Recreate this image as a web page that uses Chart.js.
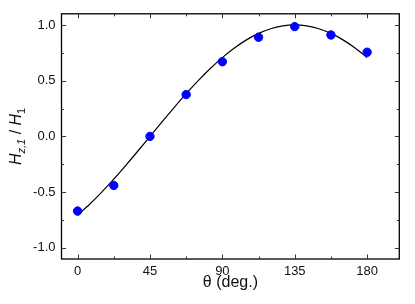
<!DOCTYPE html>
<html><head><meta charset="utf-8">
<script src="https://cdn.jsdelivr.net/npm/chart.js@4.4.0/dist/chart.umd.min.js"></script>
<style>html,body{margin:0;padding:0;background:#fff}</style></head>
<body><canvas id="c" width="415" height="304"></canvas>
<script>
const angles = [0, 22.5, 45, 67.5, 90, 112.5, 135, 157.5, 180];
const measured = [-0.67, -0.44, 0.0, 0.375, 0.67, 0.89, 0.985, 0.91, 0.755];
const fitAngles = [0, 7.5, 15, 22.5, 30, 37.5, 45, 52.5, 60, 67.5, 75, 82.5, 90, 97.5, 105, 112.5, 120, 127.5, 135, 142.5, 150, 157.5, 165, 172.5, 180];
const fitValues = [-0.707, -0.609, -0.5, -0.383, -0.259, -0.131, 0.0, 0.131, 0.259, 0.383, 0.5, 0.609, 0.707, 0.793, 0.866, 0.924, 0.966, 0.991, 1.0, 0.991, 0.966, 0.924, 0.866, 0.793, 0.707];
const xTicks = [0, 45, 90, 135, 180];
const xMinor = [22.5, 67.5, 112.5, 157.5];
const yTicks = [-1.0, -0.5, 0.0, 0.5, 1.0];
const yMinor = [-0.75, -0.25, 0.25, 0.75];
const xTitle = 'θ (deg.)';

const FONT = '"Liberation Sans", Arial, sans-serif';

const framePlugin = {
  id: 'frame',
  afterDraw(chart) {
    const ctx = chart.ctx, a = chart.chartArea;
    const xs = chart.scales.x, ys = chart.scales.y;
    ctx.save();
    ctx.strokeStyle = '#000';
    ctx.lineWidth = 1.3;
    ctx.strokeRect(a.left, a.top, a.right - a.left, a.bottom - a.top);
    ctx.lineWidth = 1;
    ctx.strokeStyle = '#333';
    const tick = (x1, y1, x2, y2) => { ctx.beginPath(); ctx.moveTo(x1, y1); ctx.lineTo(x2, y2); ctx.stroke(); };
    xTicks.forEach(v => { const p = Math.round(xs.getPixelForValue(v)) + 0.5; tick(p, a.bottom, p, a.bottom - 4.5); tick(p, a.top, p, a.top + 4.5); });
    xMinor.forEach(v => { const p = Math.round(xs.getPixelForValue(v)) + 0.5; tick(p, a.bottom, p, a.bottom - 2.5); tick(p, a.top, p, a.top + 2.5); });
    yTicks.forEach(v => { const p = Math.round(ys.getPixelForValue(v)) + 0.5; tick(a.left, p, a.left + 4.5, p); tick(a.right, p, a.right - 4.5, p); });
    yMinor.forEach(v => { const p = Math.round(ys.getPixelForValue(v)) + 0.5; tick(a.left, p, a.left + 2.5, p); tick(a.right, p, a.right - 2.5, p); });

    // x title
    ctx.fillStyle = '#111';
    ctx.font = '16px ' + FONT;
    ctx.textAlign = 'center';
    ctx.textBaseline = 'middle';
    ctx.fillText(xTitle, (a.left + a.right) / 2, 283);

    // y title with subscripts
    const parts = [
      { t: 'H', f: 'italic 16px ' + FONT, dy: 0 },
      { t: 'z,1', f: 'italic 11px ' + FONT, dy: 3.5 },
      { t: ' / ', f: '16px ' + FONT, dy: 0 },
      { t: 'H', f: 'italic 16px ' + FONT, dy: 0 },
      { t: '1', f: '11px ' + FONT, dy: 3.5 }
    ];
    let total = 0;
    parts.forEach(p => { ctx.font = p.f; p.w = ctx.measureText(p.t).width; total += p.w; });
    ctx.translate(21, (a.top + a.bottom) / 2);
    ctx.rotate(-Math.PI / 2);
    ctx.textAlign = 'left';
    ctx.textBaseline = 'alphabetic';
    let x = -total / 2;
    parts.forEach(p => { ctx.font = p.f; ctx.fillText(p.t, x, p.dy); x += p.w; });
    ctx.restore();
  }
};

new Chart(document.getElementById('c'), {
  type: 'scatter',
  data: {
    datasets: [
      {
        label: 'measured',
        data: angles.map((a, i) => ({ x: a, y: measured[i] })),
        backgroundColor: '#0000ff',
        borderColor: '#0000ff',
        pointRadius: 4.2,
        pointHoverRadius: 4.2,
        order: 0
      },
      {
        label: 'fit',
        data: fitAngles.map((a, i) => ({ x: a, y: fitValues[i] })),
        showLine: true,
        borderColor: '#000',
        borderWidth: 1.2,
        pointRadius: 0,
        cubicInterpolationMode: 'monotone',
        fill: false,
        order: 1
      }
    ]
  },
  options: {
    responsive: false,
    animation: false,
    events: [],
    layout: { padding: { left: 0, right: 15.7, top: 9.3, bottom: 0 } },
    plugins: { legend: { display: false }, tooltip: { enabled: false } },
    scales: {
      x: {
        type: 'linear', min: -10, max: 200,
        afterBuildTicks: s => { s.ticks = xTicks.map(v => ({ value: v })); },
        afterFit: s => { s.height = 45; },
        grid: { display: false, drawTicks: false },
        border: { display: false },
        ticks: { color: '#111', padding: 5, font: { family: FONT, size: 13 }, callback: v => String(v), maxRotation: 0 }
      },
      y: {
        type: 'linear', min: -1.1, max: 1.1,
        afterBuildTicks: s => { s.ticks = yTicks.map(v => ({ value: v })); },
        afterFit: s => { s.width = 61.5; },
        grid: { display: false, drawTicks: false },
        border: { display: false },
        ticks: { color: '#111', padding: 6, font: { family: FONT, size: 13 }, callback: v => Number(v).toFixed(1) }
      }
    }
  },
  plugins: [framePlugin]
});
</script>
</body></html>
